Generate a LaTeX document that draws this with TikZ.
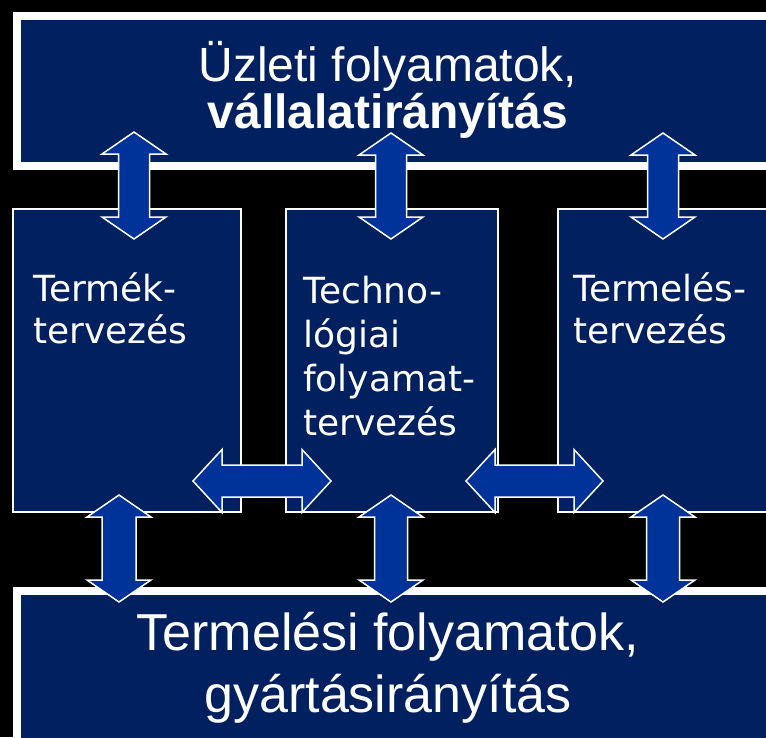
\documentclass[tikz,border=0pt]{standalone}
\usepackage{fontspec}
\setmainfont{Liberation Sans}
\newfontfamily\verdfont{DejaVu Sans}
\usetikzlibrary{calc}

\definecolor{navy}{HTML}{002060}
\definecolor{arrowblue}{HTML}{003399}

\tikzset{big box/.style={draw=white,line width=8pt,fill=navy,rectangle,inner sep=0pt,anchor=north west},
mid box/.style={draw=white,line width=1.5pt,fill=navy,rectangle,inner sep=0pt,anchor=north west,minimum height=303pt},
block arrow/.style={draw=white,line width=1.5pt,fill=arrowblue,line join=miter},
big label/.style={text=white,anchor=base,align=center,inner sep=0pt},
box label/.style={text=white,anchor=base west,align=left,inner sep=0pt}}

% vertical double arrow from (#1) down to (#2), half shaft #3
\newcommand{\vdarrow}[3]{\filldraw[block arrow] (#1) -- ++(32,22) -- ++({#3-32},0) -- ($(#2)+(#3,-22)$) -- ++({32-#3},0) -- (#2) -- ++(-32,-22) -- ++({32-#3},0) -- ($(#1)+(-#3,22)$) -- ++({#3-32},0) -- cycle;}
% horizontal double arrow from (#1) right to (#2)
\newcommand{\hdarrow}[2]{\filldraw[block arrow] (#1) -- ++(29,-31.5) -- ++(0,15.5) -- ($(#2)+(-29,-16)$) -- ++(0,-15.5) -- (#2) -- ++(-29,31.5) -- ++(0,-15.5) -- ($(#1)+(29,16)$) -- ++(0,15.5) -- cycle;}

\begin{document}
\begin{tikzpicture}[x=1pt,y=-1pt]
\useasboundingbox (0,0) rectangle (766,737);
\fill[black] (0,0) rectangle (766,737);

%% boxes
\node[big box,minimum width=762pt,minimum height=150pt] (biz) at (13,12) {};
\node[big box,minimum width=762pt,minimum height=160pt] (prod) at (13,587) {};
\node[mid box,minimum width=228pt] (termek) at (12,208) {};
\node[mid box,minimum width=212pt] (techno) at (285,208) {};
\node[mid box,minimum width=223pt] (termeles) at (557,208) {};

%% arrow ends
\coordinate (u1) at (134,132);
\coordinate (u1p) at (134,239);
\coordinate (u2) at (391,133);
\coordinate (u2p) at (391,239);
\coordinate (u3) at (663,133);
\coordinate (u3p) at (663,239);
\coordinate (d1) at (119,495);
\coordinate (d1p) at (119,602);
\coordinate (d2) at (391,495);
\coordinate (d2p) at (391,602);
\coordinate (d3) at (663,495);
\coordinate (d3p) at (663,602);
\coordinate (h1) at (193,481);
\coordinate (h1p) at (331,481);
\coordinate (h2) at (466,481);
\coordinate (h2p) at (603,481);

%% arrows
\vdarrow{u1}{u1p}{15.5}
\vdarrow{u2}{u2p}{15.5}
\vdarrow{u3}{u3p}{15.5}
\vdarrow{d1}{d1p}{17}
\vdarrow{d2}{d2p}{16.5}
\vdarrow{d3}{d3p}{16.5}
\hdarrow{h1}{h1p}
\hdarrow{h2}{h2p}

%% labels (base = last line)
\node[big label,font=\fontsize{48}{43}\selectfont] (bizlabel) at (388,128) {Üzleti folyamatok,\\\textbf{vállalatirányítás}};
\node[big label,font=\fontsize{52}{62}\selectfont] (prodlabel) at (388,712) {Termelési folyamatok,\\gyártásirányítás};
\node[box label,font=\verdfont\fontsize{36}{42}\selectfont] (termeklabel) at (33,343) {Termék-\\tervezés};
\node[box label,font=\verdfont\fontsize{36}{44}\selectfont] (technolabel) at (303,435) {Techno-\\lógiai\\folyamat-\\tervezés};
\node[box label,font=\verdfont\fontsize{36}{42}\selectfont] (termeleslabel) at (573,343) {Termelés-\\tervezés};

\end{tikzpicture}
\end{document}
